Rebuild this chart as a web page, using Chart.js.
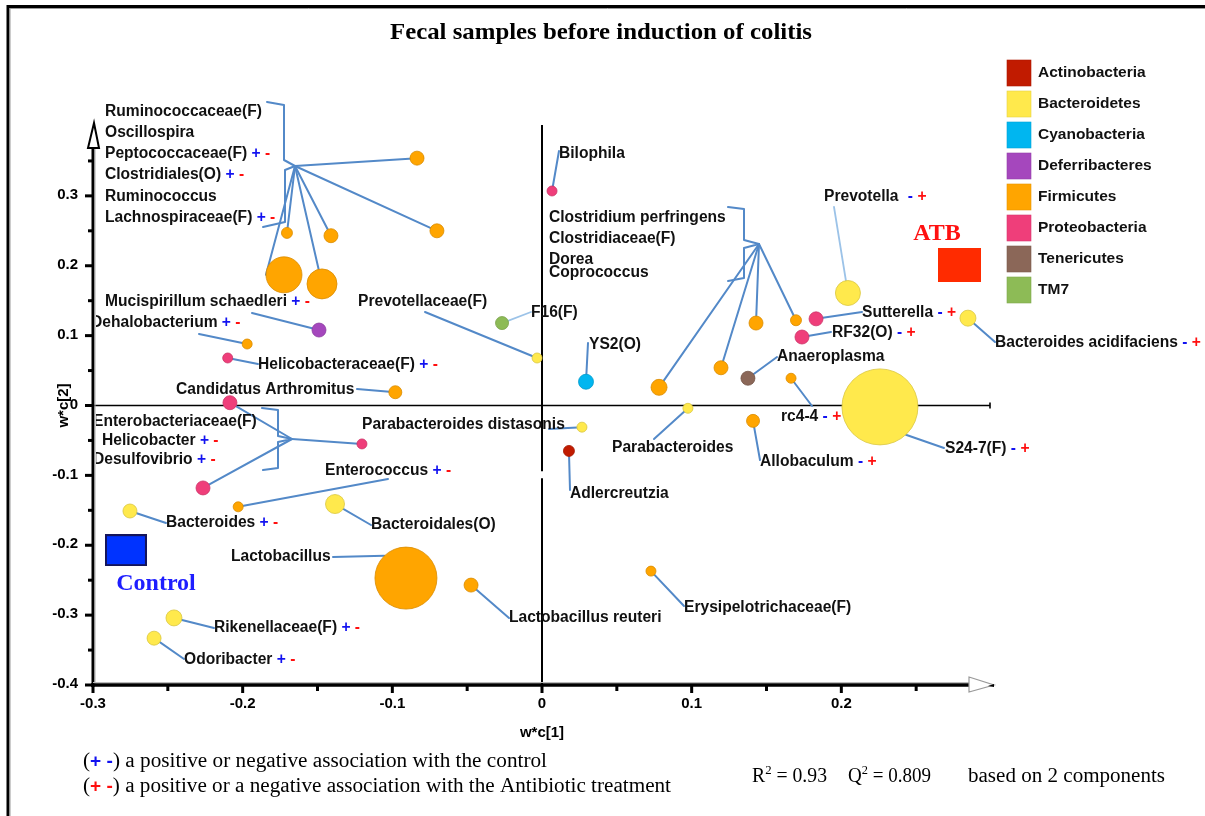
<!DOCTYPE html>
<html><head><meta charset="utf-8">
<script src="https://cdn.jsdelivr.net/npm/chart.js"></script>
<style>html,body{margin:0;padding:0;background:#fff;overflow:hidden}#wrap{width:1205px;height:816px;position:relative}canvas{display:block}</style>
</head><body><div id="wrap"><canvas id="c" width="1205" height="816"></canvas></div>
<script>
// ---------------- DATA ----------------
const phyla = ['Actinobacteria','Bacteroidetes','Cyanobacteria','Deferribacteres','Firmicutes','Proteobacteria','Tenericutes','TM7'];
const phylumColors = ['#C11B00','#FFE94C','#00B6F0','#A547BD','#FFA500','#EF3E7A','#8B6758','#8DBB56'];

const taxa = ['Ruminococcaceae(F)','Oscillospira','Peptococcaceae(F)','Clostridiales(O)','Ruminococcus','Lachnospiraceae(F)',
  'Mucispirillum schaedleri','Dehalobacterium','Helicobacteraceae(F)','Candidatus Arthromitus',
  'Enterobacteriaceae(F)','Helicobacter','Desulfovibrio','Enterococcus','Bacteroides','Bacteroidales(O)',
  'Lactobacillus','Lactobacillus reuteri','Rikenellaceae(F)','Odoribacter','Bilophila','F16(F)','Prevotellaceae(F)','YS2(O)',
  'Clostridium perfringens','Clostridiaceae(F)','Dorea','Coprococcus','Prevotella','Sutterella','RF32(O)',
  'Bacteroides acidifaciens','Anaeroplasma','rc4-4','S24-7(F)','Parabacteroides','Parabacteroides distasonis',
  'Adlercreutzia','Allobaculum','Erysipelotrichaceae(F)'];
const taxonPhylum = ['Firmicutes','Firmicutes','Firmicutes','Firmicutes','Firmicutes','Firmicutes',
  'Deferribacteres','Firmicutes','Proteobacteria','Firmicutes',
  'Proteobacteria','Proteobacteria','Proteobacteria','Firmicutes','Bacteroidetes','Bacteroidetes',
  'Firmicutes','Firmicutes','Bacteroidetes','Bacteroidetes','Proteobacteria','TM7','Bacteroidetes','Cyanobacteria',
  'Firmicutes','Firmicutes','Firmicutes','Firmicutes','Bacteroidetes','Proteobacteria','Proteobacteria',
  'Bacteroidetes','Tenericutes','Firmicutes','Bacteroidetes','Bacteroidetes','Bacteroidetes',
  'Actinobacteria','Firmicutes','Firmicutes'];
const wc1 = [-0.0835,-0.0702,-0.1704,-0.141,-0.1724,-0.147,
  -0.149,-0.197,-0.210,-0.098,
  -0.2085,-0.1203,-0.2265,-0.203,-0.2753,-0.1383,
  -0.0909,-0.0474,-0.2459,-0.2592,0.0067,-0.0267,-0.0033,0.0294,
  0.0782,0.1196,0.143,0.1697,0.2044,0.1831,0.1737,
  0.2846,0.1376,0.1664,0.2258,0.0975,0.0267,
  0.018,0.141,0.0728];
const wc2 = [0.354,0.250,0.247,0.243,0.187,0.174,
  0.108,0.088,0.068,0.019,
  0.004,-0.055,-0.118,-0.145,-0.151,-0.141,
  -0.247,-0.257,-0.304,-0.333,0.307,0.118,0.068,0.034,
  0.026,0.054,0.118,0.122,0.161,0.124,0.098,
  0.125,0.039,0.039,-0.002,-0.004,-0.031,
  -0.065,-0.022,-0.237];
const bubbleSize = [7,7,5.5,7,18,15,
  7,5,5,6.5,
  7,5,7,5,7,9.5,
  31,7,8,7,5,6.5,5,7.5,
  8,7,7,5.5,12.5,7,7,
  8,7,5,38,5,5,
  5.5,6.5,5];
// association marks: C = (+ -) with control, A = (- +) with antibiotic treatment
const association = ['','','C','C','','C',
  'C','C','C','',
  '','C','C','C','C','',
  '','','C','C','','','','',
  '','','','','A','A','A',
  'A','','A','A','','',
  '','A',''];
const responses = ['Control','ATB'];
const responseWc1 = [-0.278, 0.279];
const responseWc2 = [-0.207, 0.201];
const xTickValues = [-0.3,-0.2,-0.1,0,0.1,0.2];
const xTickLabels = ['-0.3','-0.2','-0.1','0','0.1','0.2'];
const yTickValues = [-0.4,-0.3,-0.2,-0.1,0,0.1,0.2,0.3];
const yTickLabels = ['-0.4','-0.3','-0.2','-0.1','0','0.1','0.2','0.3'];

// ---------------- LAYOUT (annotation placement, pixels) ----------------
// [taxon index, text left x, text centre y, extra gap before marks]
const labelLayout = [
 [0,105,112],[1,105,133],[2,105,154],[3,105,175],[4,105,197],[5,105,218],
 [6,105,302],[7,91,323],[8,258,365],[9,176,390],[10,93,422],[11,102,441],[12,93,460],
 [13,325,471],[14,166,523],[15,371,525],[16,231,557],[17,509,618],[18,214,628],[19,184,660],
 [20,559,154],[21,531,313],[22,358,302],[23,589,345],[24,549,218],[25,549,239],[26,549,260],[27,549,273],
 [28,824,197,5],[29,862,313],[30,832,333],[31,995,343],[32,777,357],[33,781,417],[34,945,449],
 [35,612,448],[36,362,425],[37,570,494],[38,760,462],[39,684,608]
];
// single leader lines: [taxon index, start x, start y, light?, edge angle (deg) or null]
const leaders = [
 [6,252,313],[7,199,334],[8,258,364],[9,357,389],[13,388,479],[14,166,523],[15,371,525],
 [16,333,557,false,226],[17,509,618],[18,214,628],[19,184,659],[20,559,151],[21,531,312,true],
 [22,425,312],[23,588,343],[28,834,207,true],[29,862,312],[30,831,332],[31,995,342],[32,777,357],
 [33,812,406],[34,944,448,false,47],[35,654,439],[36,549,429],[37,570,490],[38,760,460],[39,684,606]
];
// grouped labels with a brace and a hub
const groups = [
 {members:[0,1,2,3,4,5], brace:[[267,102],[284,105],[284,160],[295,166],[285,170],[285,222],[263,227]], hub:[295,166], edge:{4:180}},
 {members:[24,25,26,27], brace:[[728,207],[744,209],[744,240],[759,244],[744,248],[744,278],[728,281]], hub:[759,244], edge:{}},
 {members:[10,11,12], brace:[[262,408],[278,410],[278,436],[292,439],[278,442],[278,468],[263,470]], hub:[292,439], edge:{}}
];

// ---------------- helpers ----------------
function shade(hex, f){
  const n=parseInt(hex.slice(1),16); let r=n>>16,g=(n>>8)&255,b=n&255;
  r=Math.round(r*f); g=Math.round(g*f); b=Math.round(b*f);
  return `rgb(${r},${g},${b})`;
}
function rectStyle(w,h,fill,stroke){
  const cv=document.createElement('canvas'); cv.width=w; cv.height=h;
  const g=cv.getContext('2d'); g.fillStyle=fill; g.fillRect(0,0,w,h);
  if(stroke){g.strokeStyle=stroke; g.lineWidth=2; g.strokeRect(1,1,w-2,h-2);}
  return cv;
}
const SANS='"Liberation Sans", Arial, sans-serif';
const LABEL_FONT='bold 15.6px '+SANS;
const SERIF='"Liberation Serif","Times New Roman",serif';
const BLUE='#1212F0', RED='#FF0F0F', LEAD='#5389C8', LEAD_LIGHT='#9CC3E8';

// ---------------- datasets ----------------
const datasets = phyla.map((p,pi)=>{
  const data=[];
  taxa.forEach((t,i)=>{ if(taxonPhylum[i]===p) data.push({x:wc1[i], y:wc2[i], r:bubbleSize[i], name:t}); });
  return {label:p, data, backgroundColor:phylumColors[pi], borderColor:shade(phylumColors[pi],0.85), borderWidth:0.8, hoverRadius:0, clip:false};
});
datasets.push({type:'scatter', label:'Y variables',
  data:responses.map((r,i)=>({x:responseWc1[i], y:responseWc2[i], name:r})),
  pointStyle:[rectStyle(42,32,'#0033FF','#15155A'), rectStyle(43,34,'#FF2B00')],
  pointRadius:20, clip:false});

function drawFit(c, parts, x, y, width, font){
  c.save(); c.font=font; c.textBaseline='middle'; c.textAlign='left';
  let total=0; parts.forEach(p=>{ c.font=p.font||font; total+=c.measureText(p.t).width; });
  const s=width/total; c.translate(x,y); c.scale(s,1);
  let cx=0; parts.forEach(p=>{ c.font=p.font||font; c.fillStyle=p.color||'#000'; c.fillText(p.t,cx,p.dy||0); cx+=c.measureText(p.t).width; });
  c.restore();
}

const decor = {
 id:'decor',
 beforeDraw(chart){
  const c=chart.ctx, xs=chart.scales.x, ys=chart.scales.y;
  const X=v=>xs.getPixelForValue(v), Y=v=>ys.getPixelForValue(v);
  c.save();
  c.fillStyle='#fff'; c.fillRect(0,0,chart.width,chart.height);
  // frame
  c.strokeStyle='#000'; c.lineWidth=3; c.beginPath(); c.moveTo(8,816); c.lineTo(8,6.5); c.lineTo(1205,6.5); c.stroke();
  c.strokeStyle='#9a9a9a'; c.lineWidth=1; c.beginPath(); c.moveTo(10,816); c.lineTo(10,8.5); c.lineTo(1205,8.5); c.stroke();
  // title
  drawFit(c,[{t:'Fecal samples before induction of colitis'}],390,33,422,'bold 24px '+SERIF);
  // legend
  c.font='bold 15.5px '+SANS; c.textAlign='left'; c.textBaseline='middle';
  phyla.forEach((p,i)=>{
    const yc=73+31*i;
    c.fillStyle=phylumColors[i]; c.fillRect(1007,yc-13,24,26);
    c.strokeStyle=shade(phylumColors[i],0.9); c.lineWidth=0.6; c.strokeRect(1007,yc-13,24,26);
    c.fillStyle='#111'; c.fillText(p,1038,yc);
  });
  // zero lines
  const x0=X(0), y0=Y(0), left=X(-0.3), bottom=Y(-0.4), top=chart.chartArea.top, right=chart.chartArea.right;
  c.strokeStyle='#000'; c.lineWidth=1.6;
  c.beginPath(); c.moveTo(left,y0); c.lineTo(right-1,y0); c.moveTo(right-1,y0-3); c.lineTo(right-1,y0+3); c.stroke();
  c.lineWidth=2;
  c.beginPath(); c.moveTo(x0,top-1); c.lineTo(x0,Y(-0.094)); c.moveTo(x0,Y(-0.104)); c.lineTo(x0,bottom); c.stroke();
  // y axis
  c.strokeStyle='#000'; c.lineWidth=3;
  c.beginPath(); c.moveTo(left,bottom+2); c.lineTo(left,top+22); c.stroke();
  c.strokeStyle='#aaa'; c.lineWidth=1; c.beginPath(); c.moveTo(left+2,bottom); c.lineTo(left+2,top+22); c.stroke();
  c.fillStyle='#fff'; c.strokeStyle='#000'; c.lineWidth=2;
  c.beginPath(); c.moveTo(left+1,top-3); c.lineTo(left-5,top+22); c.lineTo(left+6,top+22); c.closePath(); c.fill(); c.stroke();
  // y ticks
  c.strokeStyle='#000'; c.lineWidth=3;
  yTickValues.forEach((v,i)=>{
    c.beginPath(); c.moveTo(left-8,Y(v)); c.lineTo(left,Y(v)); c.stroke();
    if(i<yTickValues.length-1){ const m=(v+yTickValues[i+1])/2; c.beginPath(); c.moveTo(left-5,Y(m)); c.lineTo(left,Y(m)); c.stroke(); }
  });
  c.beginPath(); c.moveTo(left-5,Y(0.35)); c.lineTo(left,Y(0.35)); c.stroke();
  c.fillStyle='#000'; c.font='bold 15px '+SANS; c.textAlign='right'; c.textBaseline='middle';
  yTickValues.forEach((v,i)=>c.fillText(yTickLabels[i], left-15, Y(v)-1));
  // x axis
  c.strokeStyle='#000'; c.lineWidth=3.5;
  c.beginPath(); c.moveTo(left-2,bottom); c.lineTo(right-22,bottom); c.stroke();
  c.strokeStyle='#bbb'; c.lineWidth=1; c.beginPath(); c.moveTo(left,bottom-2.5); c.lineTo(right-22,bottom-2.5); c.stroke();
  c.fillStyle='#fff'; c.strokeStyle='#999'; c.lineWidth=1.2;
  c.beginPath(); c.moveTo(right-22,bottom-8); c.lineTo(right+3,bottom); c.lineTo(right-22,bottom+7); c.closePath(); c.fill(); c.stroke();
  c.fillStyle='#000'; c.beginPath(); c.moveTo(right-3,bottom+1); c.lineTo(right+3,bottom-1); c.lineTo(right+3,bottom+2); c.closePath(); c.fill();
  c.strokeStyle='#000'; c.lineWidth=3;
  xTickValues.forEach((v,i)=>{
    c.beginPath(); c.moveTo(X(v),bottom); c.lineTo(X(v),bottom+8); c.stroke();
    const m=v+0.05; c.beginPath(); c.moveTo(X(m),bottom); c.lineTo(X(m),bottom+6); c.stroke();
  });
  c.textAlign='center'; c.font='bold 15px '+SANS;
  xTickValues.forEach((v,i)=>c.fillText(xTickLabels[i], X(v), bottom+19));
  // axis titles
  c.font='bold 15px '+SANS;
  c.fillText('w*c[1]', X(0), 733);
  c.save(); c.translate(64, Y(0)); c.rotate(-Math.PI/2); c.fillText('w*c[2]',0,0); c.restore();
  // footnotes
  const FN='20px '+SERIF, SF='bold 18px '+SANS;
  drawFit(c,[{t:'('},{t:'+',color:BLUE,font:SF},{t:' '},{t:'-',color:BLUE,font:SF},{t:') a positive or negative association with the control'}],83,762,464,FN);
  drawFit(c,[{t:'('},{t:'+',color:RED,font:SF},{t:' '},{t:'-',color:RED,font:SF},{t:') a positive or a negative association with the Antibiotic treatment'}],83,787,588,FN);
  const SUP='13px '+SERIF;
  drawFit(c,[{t:'R'},{t:'2',font:SUP,dy:-6},{t:' = 0.93'}],752,777,75,FN);
  drawFit(c,[{t:'Q'},{t:'2',font:SUP,dy:-6},{t:' = 0.809'}],848,777,83,FN);
  drawFit(c,[{t:'based on 2 components'}],968,777,197,FN);
  c.restore();
 },
 beforeDatasetsDraw(chart){
  const c=chart.ctx, xs=chart.scales.x, ys=chart.scales.y;
  const P=(i,ang)=>{ let px=xs.getPixelForValue(wc1[i]), py=ys.getPixelForValue(wc2[i]);
    if(ang!=null){ const a=ang*Math.PI/180; px+=bubbleSize[i]*Math.cos(a); py+=bubbleSize[i]*Math.sin(a);} return [px,py]; };
  c.save(); c.lineCap='round'; c.lineJoin='round';
  leaders.forEach(([i,sx,sy,light,ang])=>{
    const [px,py]=P(i,ang);
    c.strokeStyle=light?LEAD_LIGHT:LEAD; c.lineWidth=light?1.8:2;
    c.beginPath(); c.moveTo(sx,sy); c.lineTo(px,py); c.stroke();
  });
  c.strokeStyle=LEAD; c.lineWidth=2;
  groups.forEach(g=>{
    c.beginPath(); g.brace.forEach((p,k)=>k?c.lineTo(p[0],p[1]):c.moveTo(p[0],p[1])); c.stroke();
    g.members.forEach(i=>{ const [px,py]=P(i,g.edge[i]); c.beginPath(); c.moveTo(g.hub[0],g.hub[1]); c.lineTo(px,py); c.stroke(); });
  });
  c.restore();
 },
 afterDatasetsDraw(chart){
  const c=chart.ctx;
  c.save();
  c.beginPath(); c.rect(96,0,1109,816); c.clip();
  c.textBaseline='middle'; c.textAlign='left';
  labelLayout.forEach(([i,x,y,gap])=>{
    c.font=LABEL_FONT; c.fillStyle='#111';
    c.fillText(taxa[i],x,y);
    const a=association[i];
    if(a){
      let cx=x+c.measureText(taxa[i]+' ').width+(gap||0);
      const marks=a==='C'?[['+',BLUE],['-',RED]]:[['-',BLUE],['+',RED]];
      marks.forEach(([m,col])=>{ c.fillStyle=col; c.fillText(m,cx,y); cx+=c.measureText(m+' ').width; });
    }
  });
  c.restore();
  // response labels
  c.save(); c.textAlign='center'; c.textBaseline='middle';
  c.font='bold 24px '+SERIF;
  c.fillStyle='#FF1010'; c.fillText(responses[1], 937, 234);
  c.fillStyle='#1E1EFF'; c.fillText(responses[0], 156, 584);
  c.restore();
 }
};

new Chart(document.getElementById('c'),{
  type:'bubble',
  data:{datasets},
  options:{
    responsive:false, animation:false, devicePixelRatio:1, events:[],
    layout:{padding:{left:93,right:214,top:126,bottom:131}},
    scales:{x:{type:'linear',min:-0.3,max:0.3,display:false},y:{type:'linear',min:-0.4,max:0.4,display:false}},
    plugins:{legend:{display:false},tooltip:{enabled:false},title:{display:false}}
  },
  plugins:[decor]
});
</script></body></html>
